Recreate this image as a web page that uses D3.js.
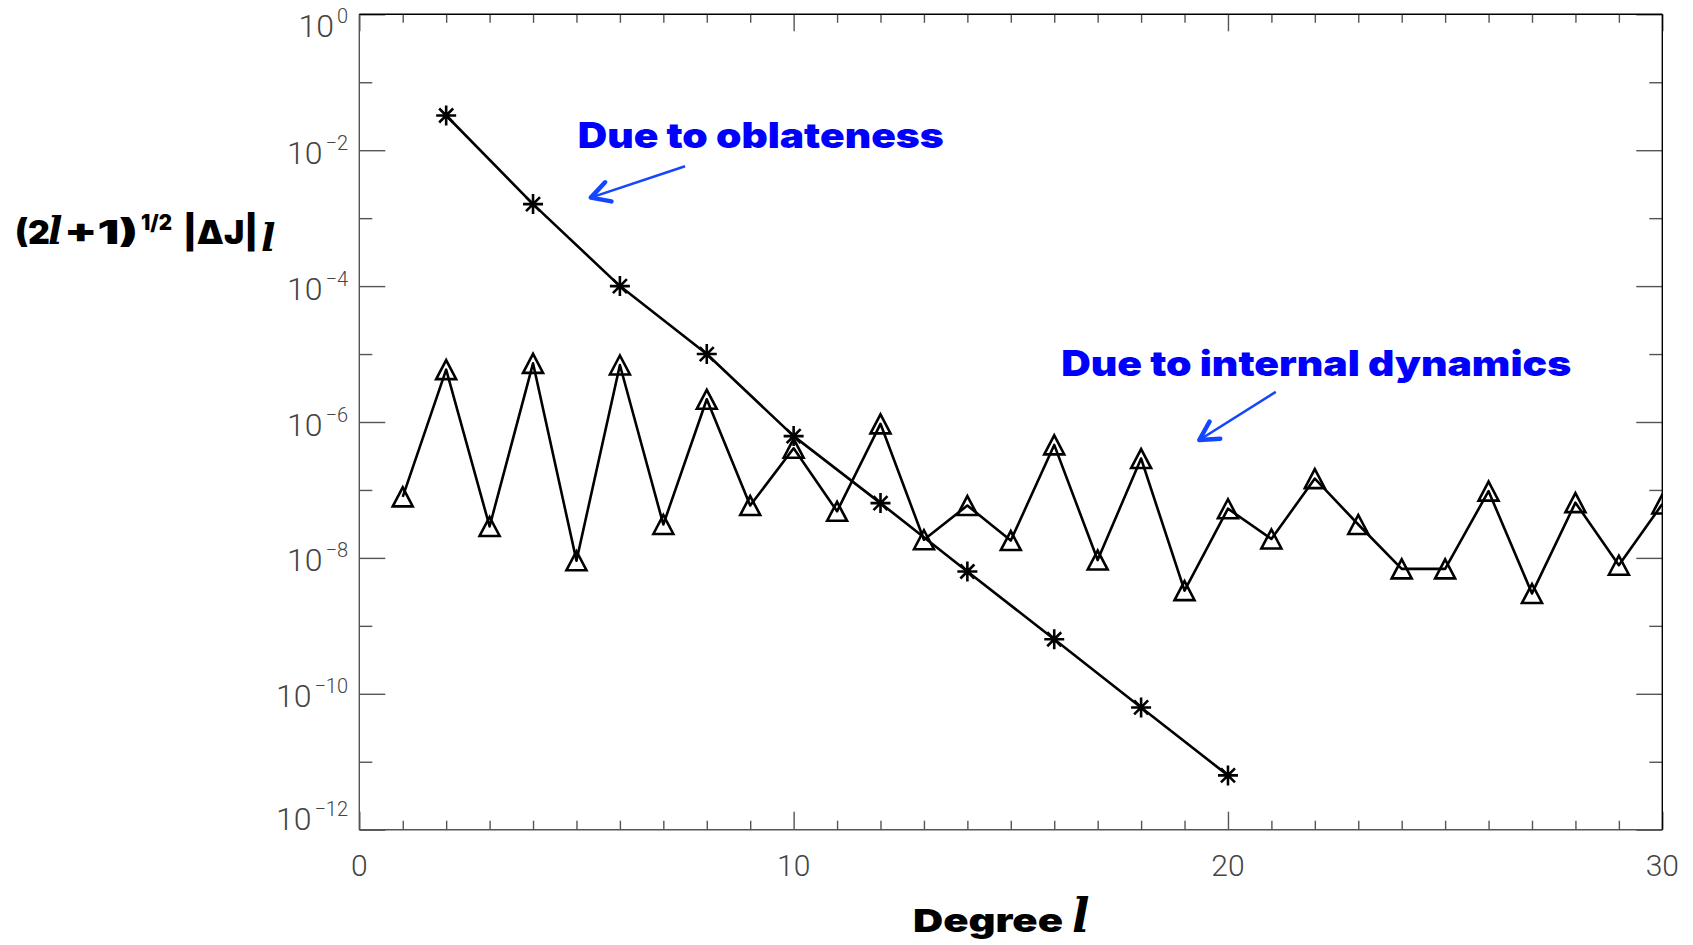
<!DOCTYPE html>
<html lang="en">
<head>
<meta charset="utf-8">
<script src="https://d3js.org/d3.v7.min.js"></script>
<style>
  body { margin: 0; background: #fff; }
  .tlab { font-family: Roboto, "Open Sans", "DejaVu Sans", sans-serif; font-weight: 300; fill: #444; }
  .heavy { font-family: Inter, Roboto, "Noto Sans", sans-serif; font-weight: 900; }
  .script { font-family: "DejaVu Serif", "Liberation Serif", serif; font-style: italic; font-weight: bold; }
</style>
</head>
<body>
<div id="chart"></div>
<script>
// degree l and the two spectra
var degrees = [1, 2, 3, 4, 5, 6, 7, 8, 9, 10, 11, 12, 13, 14, 15,
               16, 17, 18, 19, 20, 21, 22, 23, 24, 25, 26, 27, 28, 29, 30];
var internal = [7.9e-8, 5.9e-6, 2.9e-8, 7.3e-6, 9.1e-9, 6.9e-6, 3.1e-8, 2.16e-6, 5.9e-8, 4.1e-7,
                4.85e-8, 9.4e-7, 1.85e-8, 5.9e-8, 1.8e-8, 4.6e-7, 9.3e-9, 2.9e-7, 3.3e-9, 5.3e-8,
                1.9e-8, 1.47e-7, 3.1e-8, 6.9e-9, 6.9e-9, 9.6e-8, 3.0e-9, 6.5e-8, 7.8e-9, 6.2e-8];
var oblDegrees = [2, 4, 6, 8, 10, 12, 14, 16, 18, 20];
var oblateness = [3.24e-2, 1.61e-3, 1.0e-4, 1.0e-5, 6.2e-7, 6.4e-8, 6.3e-9, 6.35e-10, 6.3e-11, 6.3e-12];

var yMajorExp = [0, -2, -4, -6, -8, -10, -12];
var yMinorExp = [-1, -3, -5, -7, -9, -11];
var xMajor = [0, 10, 20, 30];
var xMinor = [1, 2, 3, 4, 5, 6, 7, 8, 9, 11, 12, 13, 14, 15, 16, 17, 18, 19, 21, 22, 23, 24, 25, 26, 27, 28, 29];

var width = 1693, height = 945;
var pLeft = 359.3, pRight = 1662.3, pTop = 14.3, pBottom = 829.7;

var svg = d3.select("#chart").append("svg")
    .attr("width", width)
    .attr("height", height);

var x = d3.scaleLinear().domain([0, 30]).range([pLeft, pRight]);
var y = d3.scaleLog().domain([1, 1e-12]).range([pTop, pBottom]);

svg.append("clipPath").attr("id", "plotclip")
  .append("rect").attr("x", pLeft).attr("y", pTop)
  .attr("width", pRight - pLeft).attr("height", pBottom - pTop);

// axes: ticks point inward on all four sides
function drawAxis(axis, tx, ty) {
  var g = svg.append("g").attr("transform", "translate(" + tx + "," + ty + ")").call(axis);
  g.select(".domain").remove();
  g.selectAll(".tick line").attr("stroke", "#555").attr("stroke-width", 1.4);
  g.selectAll(".tick text").remove();
  return g;
}
var pow = function(e) { return Math.pow(10, e); };
drawAxis(d3.axisRight(y).tickValues(yMajorExp.map(pow)).tickSize(26), pLeft, 0);
drawAxis(d3.axisRight(y).tickValues(yMinorExp.map(pow)).tickSize(13), pLeft, 0);
drawAxis(d3.axisLeft(y).tickValues(yMajorExp.map(pow)).tickSize(26), pRight, 0);
drawAxis(d3.axisLeft(y).tickValues(yMinorExp.map(pow)).tickSize(13), pRight, 0);
drawAxis(d3.axisTop(x).tickValues(xMajor).tickSize(18), 0, pBottom);
drawAxis(d3.axisTop(x).tickValues(xMinor).tickSize(9), 0, pBottom);
drawAxis(d3.axisBottom(x).tickValues(xMajor).tickSize(17), 0, pTop);
drawAxis(d3.axisBottom(x).tickValues(xMinor).tickSize(8.5), 0, pTop);

// frame
svg.append("line").attr("x1", pLeft).attr("x2", pLeft).attr("y1", pTop).attr("y2", pBottom)
  .attr("stroke", "#555").attr("stroke-width", 1.4);
svg.append("line").attr("x1", pLeft).attr("x2", pRight).attr("y1", pBottom).attr("y2", pBottom)
  .attr("stroke", "#555").attr("stroke-width", 1.4);
svg.append("line").attr("x1", pLeft).attr("x2", pRight).attr("y1", pTop).attr("y2", pTop)
  .attr("stroke", "#000").attr("stroke-width", 1.4);
svg.append("line").attr("x1", pRight).attr("x2", pRight).attr("y1", pTop).attr("y2", pBottom)
  .attr("stroke", "#000").attr("stroke-width", 1.4);

// y tick labels 10^n, kept inside the axis range like the original
yMajorExp.forEach(function(e) {
  var c = Math.max(pTop + 11, Math.min(pBottom - 11, y(pow(e)) + 2));
  var t = svg.append("text").attr("class", "tlab")
      .attr("x", 348).attr("y", c + 11.5)
      .attr("text-anchor", "end")
      .style("font-size", "32px");
  t.append("tspan").text("10");
  t.append("tspan").attr("dy", -14).attr("dx", 3).style("font-size", "20px")
    .text(e === 0 ? "0" : "\u2212" + (-e));
});

// x tick labels
svg.selectAll(".xlab").data(xMajor).enter().append("text")
  .attr("class", "tlab")
  .attr("x", function(d) { return x(d); })
  .attr("y", 876)
  .attr("text-anchor", "middle")
  .style("font-size", "30px")
  .text(function(d) { return d; });

// series
var plot = svg.append("g").attr("clip-path", "url(#plotclip)");

var line = d3.line()
  .x(function(d) { return x(d[0]); })
  .y(function(d) { return y(d[1]); });

var intPts = degrees.map(function(d, i) { return [d, internal[i]]; });
var oblPts = oblDegrees.map(function(d, i) { return [d, oblateness[i]]; });

plot.append("path").datum(intPts).attr("d", line)
  .attr("fill", "none").attr("stroke", "#000").attr("stroke-width", 2.6).attr("stroke-linejoin", "round");
plot.append("path").datum(oblPts).attr("d", line)
  .attr("fill", "none").attr("stroke", "#000").attr("stroke-width", 2.6).attr("stroke-linejoin", "round");

plot.selectAll(".tri").data(intPts).enter().append("path")
  .attr("transform", function(d) { return "translate(" + x(d[0]) + "," + y(d[1]) + ")"; })
  .attr("d", "M-10,9.5L0,-9.5L10,9.5Z")
  .attr("fill", "none").attr("stroke", "#000").attr("stroke-width", 2.6);

plot.selectAll(".star").data(oblPts).enter().append("path")
  .attr("transform", function(d) { return "translate(" + x(d[0]) + "," + y(d[1]) + ")"; })
  .attr("d", "M-10,0H10M0,-10V10M-7,-7L7,7M-7,7L7,-7")
  .attr("fill", "none").attr("stroke", "#000").attr("stroke-width", 2.6);

// annotations (positions in data units)
var blue = "#1446ff";
function arrow(l0, v0, l1, v1) {
  var x0 = x(l0), y0 = y(v0), x1 = x(l1), y1 = y(v1);
  var a = Math.atan2(y0 - y1, x0 - x1), h = 21, s = 0.5;
  svg.append("line").attr("x1", x0).attr("y1", y0).attr("x2", x1).attr("y2", y1)
    .attr("stroke", blue).attr("stroke-width", 2.6);
  svg.append("path")
    .attr("d", "M" + (x1 + h * Math.cos(a + s)) + "," + (y1 + h * Math.sin(a + s)) +
               "L" + x1 + "," + y1 +
               "L" + (x1 + h * Math.cos(a - s)) + "," + (y1 + h * Math.sin(a - s)))
    .attr("fill", "none").attr("stroke", blue).attr("stroke-width", 4.5)
    .attr("stroke-linecap", "round").attr("stroke-linejoin", "round");
}
arrow(7.5, pow(-2.237), 5.33, pow(-2.698));
arrow(21.1, pow(-5.558), 19.34, pow(-6.265));

svg.append("text").attr("class", "heavy")
  .attr("x", x(5.03)).attr("y", y(pow(-1.968)))
  .attr("fill", "#0000ff").style("font-size", "35px")
  .attr("textLength", 366).attr("lengthAdjust", "spacingAndGlyphs")
  .text("Due to oblateness");
svg.append("text").attr("class", "heavy")
  .attr("x", x(16.16)).attr("y", y(pow(-5.323)))
  .attr("fill", "#0000ff").style("font-size", "35px")
  .attr("textLength", 510).attr("lengthAdjust", "spacingAndGlyphs")
  .text("Due to internal dynamics");

// y axis title, built piece by piece
function part(txt, px, py, size, cls, len) {
  var t = svg.append("text").attr("class", cls)
    .attr("x", px).attr("y", py).style("font-size", size + "px").attr("fill", "#000")
    .text(txt);
  if (len) t.attr("textLength", len).attr("lengthAdjust", "spacingAndGlyphs");
  return t;
}
part("(2", 15, 244, 33, "heavy", 35);
part("l", 48, 244, 38, "script");
part("+1)", 64, 244, 33, "heavy", 74);
part("1/2", 141, 230, 21, "heavy", 31);
part("|\u0394J|", 183, 244, 33, "heavy", 75);
part("l", 261, 251, 38, "script");

// x axis title
part("Degree", 913, 932, 32, "heavy", 150);
part("l", 1072, 932, 46, "script");
</script>
</body>
</html>
